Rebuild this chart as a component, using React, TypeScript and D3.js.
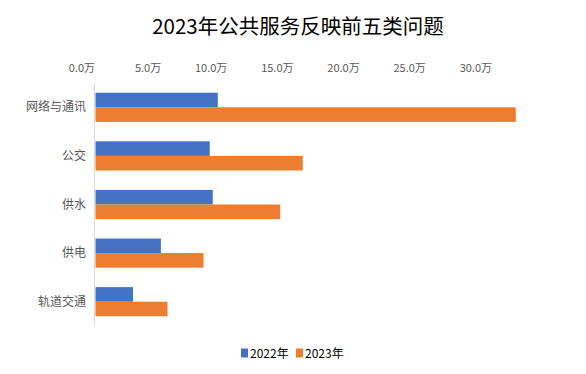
import React from "react";
import * as d3 from "d3";

const categories = ["网络与通讯", "公交", "供水", "供电", "轨道交通"];
const series2022 = [9.28, 8.67, 8.9, 4.98, 2.87];
const series2023 = [31.8, 15.7, 14.0, 8.2, 5.48];
const seriesNames = ["2022年", "2023年"];
const tickValues = [0, 5, 10, 15, 20, 25, 30];
const colors = ["#4472C4", "#ED7D31"];

const W = 586;
const H = 374;
const FONT = "'Noto Sans CJK SC', 'Noto Sans', sans-serif";

export default function App() {
  const x = d3.scaleLinear().domain([0, 30]).range([95, 492]);
  const y = d3.scaleBand<string>().domain(categories).range([83, 326]).paddingInner(0.4).paddingOuter(0.2);
  const sub = d3.scaleBand<number>().domain([0, 1]).range([0, y.bandwidth()]);
  const data = [series2022, series2023];

  return (
    <svg width={W} height={H} style={{ position: "absolute", left: 0, top: 0, background: "#fff" }}>
      <text x={298} y={34} textAnchor="middle" fontFamily={FONT} fontSize={20.5} fill="#000">
        2023年公共服务反映前五类问题
      </text>
      {tickValues.map((t) => (
        <text key={t} x={x(t)} y={72} textAnchor="end" fontFamily={FONT} fontSize={11} fill="#595959">
          {d3.format(".1f")(t) + "万"}
        </text>
      ))}
      <line x1={94.5} x2={94.5} y1={83} y2={326} stroke="#d9d9d9" strokeWidth={1} />
      {categories.map((c, i) => (
        <g key={c}>
          <text x={86} y={(y(c) ?? 0) + y.bandwidth() / 2 + 4} textAnchor="end" fontFamily={FONT} fontSize={12} fill="#595959">
            {c}
          </text>
          {data.map((s, j) => (
            <rect
              key={j}
              x={x(0) + 0.5}
              y={(y(c) ?? 0) + (sub(j) ?? 0)}
              width={x(s[i]) - x(0) - 0.5}
              height={sub.bandwidth()}
              fill={colors[j]}
            />
          ))}
        </g>
      ))}
      {seriesNames.map((n, j) => {
        const lx = j === 0 ? 241 : 296;
        return (
          <g key={n}>
            <rect x={lx} y={348.5} width={7} height={9} fill={colors[j]} />
            <text x={lx + 9} y={357.5} fontFamily={FONT} fontSize={12} fill="#000">
              {n}
            </text>
          </g>
        );
      })}
    </svg>
  );
}
